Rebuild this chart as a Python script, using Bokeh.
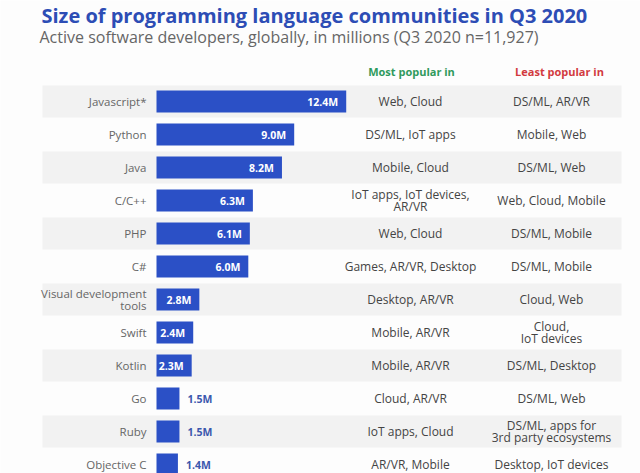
from bokeh.plotting import figure
from bokeh.models import ColumnDataSource, Range1d, Label
from bokeh.core.properties import value
from bokeh.embed import file_html
from bokeh.resources import INLINE

# ---- data ----
languages = ["Javascript*", "Python", "Java", "C/C++", "PHP", "C#",
             "Visual development\ntools", "Swift", "Kotlin", "Go", "Ruby", "Objective C"]
developers_m = [12.4, 9.0, 8.2, 6.3, 6.1, 6.0, 2.8, 2.4, 2.3, 1.5, 1.5, 1.4]
most_popular = ["Web, Cloud", "DS/ML, IoT apps", "Mobile, Cloud",
                "IoT apps, IoT devices,\nAR/VR", "Web, Cloud", "Games, AR/VR, Desktop",
                "Desktop, AR/VR", "Mobile, AR/VR", "Mobile, AR/VR", "Cloud, AR/VR",
                "IoT apps, Cloud", "AR/VR, Mobile"]
least_popular = ["DS/ML, AR/VR", "Mobile, Web", "DS/ML, Web", "Web, Cloud, Mobile",
                 "DS/ML, Mobile", "DS/ML, Mobile", "Cloud, Web", "Cloud,\nIoT devices",
                 "DS/ML, Desktop", "DS/ML, Web", "DS/ML, apps for\n3rd party ecosystems",
                 "Desktop, IoT devices"]
title_text = "Size of programming language communities in Q3 2020"
subtitle_text = "Active software developers, globally, in millions (Q3 2020 n=11,927)"
most_header = "Most popular in"
least_header = "Least popular in"

# ---- layout constants (pixels within the figure) ----
W, H = 640, 473
PX = 15.3          # pixels per million
BAR0 = 156         # x pixel of value 0
ROW = 33           # pixels per row
ROW0 = 101         # y pixel of first row centre

def dx(px):
    return (px - BAR0) / PX

def dy(py):
    return (py - ROW0) / ROW

FONT = "Open Sans"
BLUE = "#2b50c6"
LH = 0.74

idx = list(range(len(languages)))
labels = [f"{v:.1f}M" for v in developers_m]
inside = [v >= 2.0 for v in developers_m]

p = figure(width=W, height=H, output_backend="svg", toolbar_location=None,
           x_range=Range1d(dx(0), dx(W)),
           y_range=Range1d(dy(H), dy(0)),
           x_axis_location=None, y_axis_location=None,
           min_border=0, outline_line_color=None,
           background_fill_color="#fdfdfd", border_fill_color="#fdfdfd")
p.grid.visible = False

# stripes
stripe_rows = [i for i in idx if i % 2 == 0]
p.hbar(y=stripe_rows, left=dx(42), right=dx(621), height=0.97,
       color="#f2f2f2", line_color=None)

src = ColumnDataSource(dict(y=idx, lang=languages, v=developers_m, lab=labels,
                            most=most_popular, least=least_popular))
p.hbar(y="y", left=0, right="v", height=0.66, source=src,
       color=BLUE, line_color=None)

# category labels
p.text(x=0, y="y", text="lang", source=src, x_offset=-10,
       text_align="right", text_baseline="middle", text_font=value(FONT),
       text_font_size="11.5px", text_color="#666666", text_line_height=0.8)

# value labels
in_src = ColumnDataSource(dict(y=[i for i in idx if inside[i]],
                               v=[developers_m[i] for i in idx if inside[i]],
                               lab=[labels[i] for i in idx if inside[i]]))
out_src = ColumnDataSource(dict(y=[i for i in idx if not inside[i]],
                                v=[developers_m[i] for i in idx if not inside[i]],
                                lab=[labels[i] for i in idx if not inside[i]]))
p.text(x="v", y="y", text="lab", source=in_src, x_offset=-8,
       text_align="right", text_baseline="middle", text_font=value(FONT),
       text_font_style="bold", text_font_size="10.5px", text_color="white")
p.text(x="v", y="y", text="lab", source=out_src, x_offset=8,
       text_align="left", text_baseline="middle", text_font=value(FONT),
       text_font_style="bold", text_font_size="10.5px", text_color="#3b57ad")

# column texts
MOST_X = dx(410)
LEAST_X = dx(551)
p.text(x=MOST_X, y="y", text="most", source=src, text_align="center",
       text_baseline="middle", text_font=value(FONT), text_font_size="12px",
       text_color="#444444", text_line_height=LH)
p.text(x=LEAST_X, y="y", text="least", source=src, text_align="center",
       text_baseline="middle", text_font=value(FONT), text_font_size="12px",
       text_color="#444444", text_line_height=LH)

# headers
hy = dy(71)
p.add_layout(Label(x=dx(411), y=hy, text=most_header, text_align="center",
                   text_baseline="middle", text_font=FONT, text_font_style="bold",
                   text_font_size="11px", text_color="#2f9a5c"))
p.add_layout(Label(x=dx(559), y=hy, text=least_header, text_align="center",
                   text_baseline="middle", text_font=FONT, text_font_style="bold",
                   text_font_size="11px", text_color="#d23a3f"))

# title & subtitle
p.add_layout(Label(x=41, y=H - 15, x_units="screen", y_units="screen",
                   text=title_text, text_align="left", text_baseline="middle",
                   text_font=FONT, text_font_style="bold", text_font_size="20px",
                   text_color="#2d4db5"))
p.add_layout(Label(x=39, y=H - 36, x_units="screen", y_units="screen",
                   text=subtitle_text, text_align="left", text_baseline="middle",
                   text_font=FONT, text_font_size="16px", text_color="#666666"))

open("out.html", "w").write(file_html(p, INLINE))
